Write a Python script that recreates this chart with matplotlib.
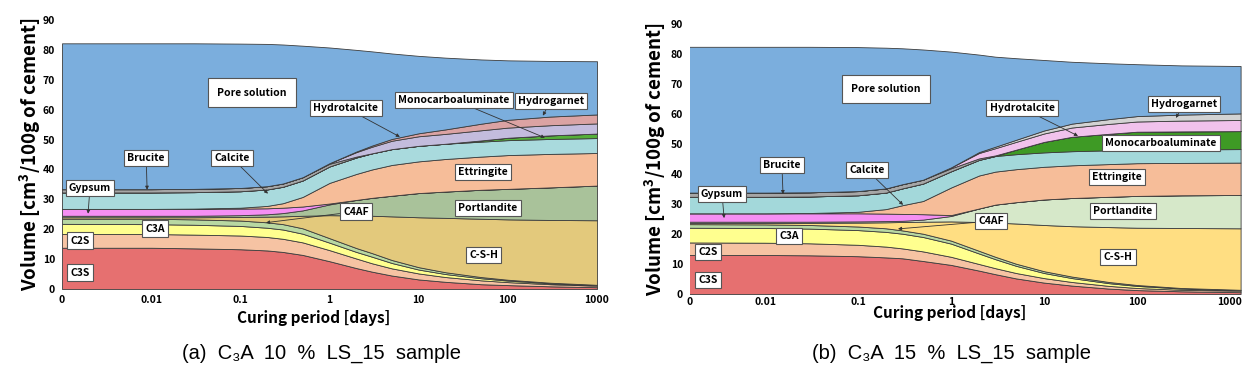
"""
Phase assemblage of cement paste over curing time (two samples)
"""

import matplotlib.pyplot as plt

# Curing period [days] (panel b runs slightly past 1000)
days_a = [0.001, 0.01, 0.03, 0.1, 0.2, 0.3, 0.5, 1, 2, 3, 5, 10, 20, 50, 100, 300, 1000]
days_b = [0.001, 0.01, 0.03, 0.1, 0.2, 0.3, 0.5, 1, 2, 3, 5, 10, 20, 50, 100, 300, 1300]

# Phases, stacked from bottom to top
phases = ['C3S', 'C2S', 'C3A', 'C4AF', 'C-S-H', 'Portlandite', 'Gypsum', 'Ettringite', 'Calcite',
          'Monocarboaluminate', 'Brucite', 'Hydrotalcite', 'Hydrogarnet', 'Pore solution']

# (a) C3A 10 % LS_15 : volumes [cm3/100g of cement]
c3s_a = [13.8, 13.8, 13.6, 13.3, 12.9, 12.4, 11.4, 9.3, 7.0, 5.8, 4.5, 3.2, 2.4, 1.6, 1.3, 0.9, 0.6]
c2s_a = [4.6, 4.6, 4.6, 4.6, 4.5, 4.4, 4.2, 3.7, 3.2, 2.8, 2.4, 2.0, 1.6, 1.3, 1.0, 0.7, 0.5]
c3a_a = [3.4, 3.3, 3.3, 3.2, 3.1, 3.1, 2.9, 2.5, 2.2, 2.2, 1.8, 1.3, 1.0, 0.7, 0.5, 0.3, 0.2]
c4af_a = [1.7, 1.8, 1.8, 1.8, 1.8, 1.8, 1.8, 1.5, 1.3, 1.2, 1.0, 0.8, 0.6, 0.4, 0.3, 0.2, 0.1]
csh_a = [0.5, 0.5, 0.7, 1.2, 1.9, 2.6, 4.2, 7.7, 10.9, 12.5, 14.6, 16.7, 18.2, 19.5, 20.2, 21.0, 21.6]
portlandite_a = [0.5, 0.5, 0.5, 0.6, 0.8, 1.1, 1.8, 3.6, 5.2, 6.0, 6.9, 8.1, 8.8, 9.7, 10.2, 10.9, 11.6]
gypsum_a = [2.3, 2.3, 2.3, 2.2, 2.0, 1.8, 1.3, 0.3, 0, 0, 0, 0, 0, 0, 0, 0, 0]
ettringite_a = [0.0, 0.0, 0.1, 0.3, 0.8, 1.5, 3.2, 6.9, 8.7, 9.5, 10.3, 10.6, 10.9, 11.1, 11.3, 11.2, 10.9]
calcite_a = [5.5, 5.5, 5.5, 5.5, 5.5, 5.5, 5.5, 5.5, 5.5, 5.4, 5.3, 5.2, 5.1, 5.0, 5.0, 5.0, 5.0]
monocarbo_a = [0, 0, 0, 0, 0, 0, 0, 0, 0, 0, 0, 0, 0, 0.4, 0.8, 1.2, 1.5]
brucite_a = [1.1, 1.1, 1.1, 1.1, 1.1, 1.1, 1.1, 0.9, 0.3, 0, 0, 0, 0, 0, 0, 0, 0]
hydrotalcite_a = [0, 0, 0, 0, 0, 0, 0, 0.2, 1.5, 2.2, 2.8, 3.2, 3.3, 3.4, 3.4, 3.4, 3.4]
hydrogarnet_a = [0, 0, 0, 0, 0, 0, 0, 0, 0.2, 0.4, 0.6, 1.0, 1.5, 2.2, 2.6, 2.9, 3.0]
pore_a = [48.8, 48.8, 48.7, 48.3, 47.6, 46.5, 44.0, 38.7, 34.0, 31.5, 28.6, 25.9, 24.0, 21.5, 19.9, 18.6, 17.8]

# (b) C3A 15 % LS_15 : volumes [cm3/100g of cement]
c3s_b = [13.0, 13.0, 12.9, 12.6, 12.2, 11.9, 11.0, 9.7, 7.8, 6.6, 5.2, 3.8, 2.8, 1.8, 1.3, 0.9, 0.6]
c2s_b = [4.2, 4.1, 4.0, 3.8, 3.6, 3.3, 3.2, 2.7, 2.2, 2.0, 1.8, 1.5, 1.2, 0.9, 0.7, 0.5, 0.5]
c3a_b = [4.9, 4.9, 4.9, 4.9, 4.9, 4.9, 4.8, 4.4, 3.5, 3.0, 2.4, 1.7, 1.3, 0.9, 0.7, 0.4, 0.2]
c4af_b = [1.2, 1.2, 1.2, 1.2, 1.2, 1.1, 1.1, 1.0, 0.9, 0.8, 0.7, 0.6, 0.5, 0.4, 0.3, 0.2, 0.1]
csh_b = [0.4, 0.5, 0.7, 1.3, 2.0, 2.8, 4.0, 6.4, 9.6, 11.4, 13.4, 15.4, 16.8, 18.3, 19.1, 20.0, 20.5]
portlandite_b = [0.4, 0.4, 0.4, 0.4, 0.4, 0.4, 0.7, 1.8, 4.5, 6.0, 7.1, 8.5, 9.4, 10.1, 10.6, 10.9, 11.1]
gypsum_b = [2.8, 2.8, 2.8, 2.7, 2.5, 2.3, 1.8, 0.3, 0, 0, 0, 0, 0, 0, 0, 0, 0]
ettringite_b = [0.0, 0.0, 0.1, 0.5, 1.5, 2.9, 4.4, 9.2, 11.0, 11.0, 11.0, 10.9, 10.9, 10.9, 10.9, 10.8, 10.8]
calcite_b = [5.5, 5.5, 5.5, 5.5, 5.5, 5.6, 5.8, 5.4, 5.2, 5.2, 5.0, 4.8, 4.7, 4.6, 4.5, 4.5, 4.5]
monocarbo_b = [0, 0, 0, 0, 0, 0, 0, 0, 0, 0, 1.5, 3.5, 4.8, 5.5, 6.0, 6.0, 6.0]
brucite_b = [1.4, 1.4, 1.4, 1.4, 1.4, 1.4, 1.3, 1.0, 0.5, 0.2, 0, 0, 0, 0, 0, 0, 0]
hydrotalcite_b = [0, 0, 0, 0, 0, 0, 0, 0.3, 1.8, 2.4, 2.6, 2.8, 3.1, 3.3, 3.4, 3.6, 3.7]
hydrogarnet_b = [0, 0, 0, 0, 0, 0, 0, 0, 0.3, 0.5, 0.7, 1.0, 1.3, 1.6, 1.8, 2.0, 2.2]
pore_b = [48.6, 48.6, 48.5, 48.0, 46.9, 45.3, 43.4, 38.6, 32.5, 30.0, 27.2, 23.5, 20.6, 18.6, 17.3, 16.4, 15.8]

# Phase colours for each panel
colors_a = ['#E67070', '#F6C3A3', '#FFFF8F', '#B8D8A2', '#E3C97C', '#A9C29A', '#F58FF3', '#F6BD99',
            '#A9DADD', '#55AE3A', '#A6A6A6', '#C3BCDD', '#DBA3A3', '#7BAEDD']
colors_b = ['#E67070', '#F6C3A3', '#FFFF8F', '#B8D8A2', '#FFDE82', '#D6E8C9', '#F58FF3', '#F6BD99',
            '#A3D8DA', '#3E9A25', '#A6A6A6', '#F1C2EC', '#D3D3D3', '#7BAEDD']

# Tick labels of the curing period axis
tick_days = [0.01, 0.1, 1, 10, 100, 1000]
tick_labels = ['0', '0.01', '0.1', '1', '10', '100', '1000']

# Phase labels: (text, label position, arrow tip or None)
labels_a = [
    ('Pore solution', (0.135, 65.7), None),
    ('Brucite', (0.0088, 43.9), (0.0090, 33.2)),
    ('Calcite', (0.08, 43.9), (0.204, 31.9)),
    ('Gypsum', (0.00206, 33.9), (0.00196, 25.2)),
    ('C3A', (0.011, 20.2), None),
    ('C2S', (0.00159, 16.2), None),
    ('C3S', (0.00159, 5.5), None),
    ('Hydrotalcite', (1.53, 60.6), (6.15, 50.9)),
    ('Monocarboaluminate', (24.8, 63.3), (260, 50.6)),
    ('Hydrogarnet', (303, 63.0), (247, 58.0)),
    ('Ettringite', (52.5, 39.2), None),
    ('Portlandite', (59.7, 27.2), None),
    ('C4AF', (1.98, 25.9), (0.194, 22.2)),
    ('C-S-H', (53.8, 11.5), None),
]
labels_b = [
    ('Pore solution', (0.2, 68.3), None),
    ('Brucite', (0.0152, 43.0), (0.0156, 33.3)),
    ('Calcite', (0.125, 41.3), (0.305, 29.7)),
    ('Gypsum', (0.00345, 33.3), (0.00363, 25.3)),
    ('C3A', (0.0181, 19.3), None),
    ('C2S', (0.00244, 14.0), None),
    ('C3S', (0.00244, 4.7), None),
    ('Hydrotalcite', (5.8, 62.0), (23.2, 52.7)),
    ('Hydrogarnet', (320, 63.3), (262, 58.7)),
    ('Monocarboaluminate', (181, 50.3), None),
    ('Ettringite', (61, 39.0), None),
    ('Portlandite', (70.7, 27.7), None),
    ('C4AF', (2.69, 24.3), (0.269, 21.7)),
    ('C-S-H', (62.5, 12.3), None),
]

FONT = ['Noto Sans CJK KR', 'DejaVu Sans']


def _add_label(ax, text, xy_text, xy_arrow=None):
    """
    """

    # Bigger box for the pore solution label
    pad = 0.9 if text == 'Pore solution' else 0.3
    box = dict(boxstyle=f'square,pad={pad}', fc='white', ec='#555555', lw=0.8)

    # Plain label or label with an arrow
    if xy_arrow is None:
        ax.text(xy_text[0], xy_text[1], text, ha='center', va='center', fontsize=7.5,
                fontweight='bold', family=FONT, bbox=box, zorder=5)
    else:
        ax.annotate(text, xy=xy_arrow, xytext=xy_text, ha='center', va='center', fontsize=7.5,
                    fontweight='bold', family=FONT, bbox=box, zorder=5,
                    arrowprops=dict(arrowstyle='-|>', color='#333333', lw=0.6,
                                    mutation_scale=5, shrinkA=0, shrinkB=0))


def plot_panel(ax, days, volumes, colors, labels, x_min, x_max, tick_pad, xlabel_pos, ylabel_x):
    """
    """

    # Stacked phase volumes
    ax.stackplot(days, volumes, colors=colors, edgecolor='#3c3c3c', linewidth=0.6)

    # Axis properties
    ax.set_xscale('log')
    ax.set_xlim(x_min, x_max)
    ax.set_ylim(0, 90)
    ax.set_xticks([x_min] + tick_days)
    ax.set_xticklabels(tick_labels)
    ax.minorticks_off()
    ax.set_yticks(range(0, 91, 10))
    ax.tick_params(length=0, labelsize=7.5, pad=5)
    ax.tick_params(axis='x', pad=tick_pad)
    for lab in ax.get_xticklabels() + ax.get_yticklabels():
        lab.set_fontweight('bold')
        lab.set_family(FONT)
    for spine in ax.spines.values():
        spine.set_visible(False)

    # Axis titles
    ax.set_xlabel('Curing period [days]', fontsize=11, fontweight='bold', family=FONT)
    ax.xaxis.set_label_coords(*xlabel_pos)
    ax.set_ylabel('Volume [cm$^3$/100g of cement]', fontsize=13.5, fontweight='bold', family=FONT)
    ax.yaxis.set_label_coords(ylabel_x, 0.5)

    # Phase labels
    for text, xy_text, xy_arrow in labels:
        _add_label(ax, text, xy_text, xy_arrow)


fig = plt.figure(figsize=(12.57, 3.73), dpi=100)
plt.rcParams['mathtext.fontset'] = 'custom'
plt.rcParams['mathtext.bf'] = 'Noto Sans CJK KR:bold'
plt.rcParams['mathtext.rm'] = 'Noto Sans CJK KR:bold'

ax_a = fig.add_axes([62 / 1257, 84 / 373, 538 / 1257, 269 / 373])
ax_b = fig.add_axes([690 / 1257, 79 / 373, 551 / 1257, 270 / 373])

volumes_a = [c3s_a, c2s_a, c3a_a, c4af_a, csh_a, portlandite_a, gypsum_a, ettringite_a, calcite_a,
             monocarbo_a, brucite_a, hydrotalcite_a, hydrogarnet_a, pore_a]
volumes_b = [c3s_b, c2s_b, c3a_b, c4af_b, csh_b, portlandite_b, gypsum_b, ettringite_b, calcite_b,
             monocarbo_b, brucite_b, hydrotalcite_b, hydrogarnet_b, pore_b]

plot_panel(ax_a, days_a, volumes_a, colors_a, labels_a, 0.001, 1080, 4, (0.468, -0.078), -0.036)
plot_panel(ax_b, days_b, volumes_b, colors_b, labels_b, 0.00156, 1313, 2, (0.472, -0.042), -0.040)

# Sub-figure captions
fig.text(322 / 1257, 1 - 353 / 373, '(a)  C\u2083A  10  %  LS_15  sample', ha='center', va='center',
         fontsize=14.5, family=['Liberation Sans', 'DejaVu Sans'])
fig.text(952 / 1257, 1 - 353 / 373, '(b)  C\u2083A  15  %  LS_15  sample', ha='center', va='center',
         fontsize=14.5, family=['Liberation Sans', 'DejaVu Sans'])

fig.savefig('out.png', dpi=100)
